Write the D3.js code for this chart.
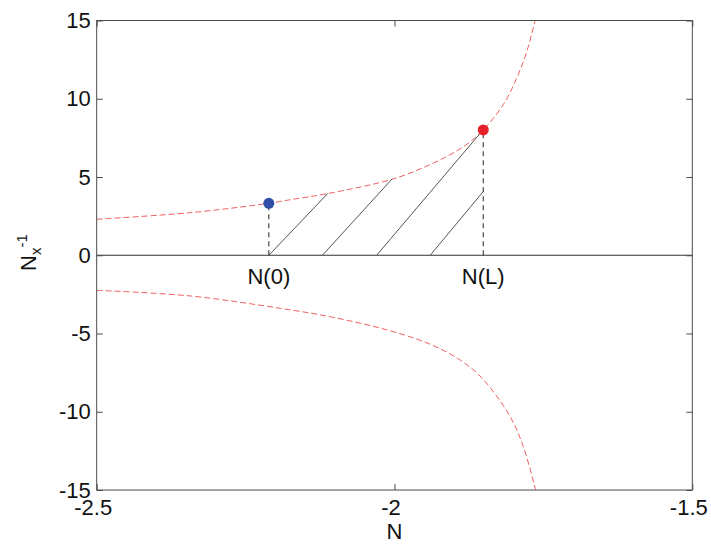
<!DOCTYPE html>
<html><head><meta charset="utf-8">
<script src="https://cdn.jsdelivr.net/npm/d3@7"></script>
<style>body{margin:0;background:#fff}svg{display:block}text{font-family:Arial,"Liberation Sans",sans-serif}</style>
</head><body><svg id="c" width="711" height="544"></svg>
<script>
// data
const xTicks = [-2.5, -2, -1.5];
const yTicks = [-15, -10, -5, 0, 5, 10, 15];
const upperN = [-2.5, -2.343, -2.211, -2.175, -2.111, -2.002, -1.940, -1.890, -1.855, -1.817, -1.795, -1.778, -1.764];
const upperY = [2.30, 2.72, 3.32, 3.55, 3.95, 4.88, 5.80, 6.80, 7.85, 9.65, 11.30, 13.00, 15.0];
const lowerN = [-2.5, -2.343, -2.192, -2.108, -2.008, -1.940, -1.890, -1.853, -1.806, -1.784, -1.763];
const lowerY = [-2.24, -2.60, -3.39, -3.93, -4.82, -5.69, -6.69, -7.85, -10.3, -12.2, -15.0];
const hatchStart = [-2.211, -2.121, -2.030, -1.940];
const hatchEndN = [-2.112, -2.004, -1.857, -1.851];
const hatchEndY = [3.95, 4.88, 7.75, 4.07];
const markerLabels = ["N(0)", "N(L)"];
const markerN = [-2.211, -1.851];
const markerY = [3.32, 8.01];
const markerColors = ["#2f4fa6", "#e8202a"];

const L = 96.7, R = 692.3, T = 20.5, B = 490;
const svg = d3.select("#c");
const x = d3.scaleLinear().domain([-2.5, -1.5]).range([L, R]);
const y = d3.scaleLinear().domain([-15, 15]).range([B, T]);
const axisColor = "#4a4a4a";
const fs = 22;

svg.append("clipPath").attr("id", "clip").append("rect")
  .attr("x", L).attr("y", T).attr("width", R - L).attr("height", B - T);

const plot = svg.append("g").attr("clip-path", "url(#clip)");

// zero line
plot.append("line").attr("x1", L).attr("x2", R).attr("y1", y(0)).attr("y2", y(0))
  .attr("stroke", "#333").attr("stroke-width", 1);

const line = d3.line().x(d => x(d[0])).y(d => y(d[1])).curve(d3.curveCatmullRom.alpha(0.5));
plot.append("path").datum(upperN.map((n, i) => [n, upperY[i]]))
  .attr("d", line).attr("fill", "none").attr("stroke", "#f06060").attr("stroke-width", 1)
  .attr("stroke-dasharray", "6,3");
plot.append("path").datum(lowerN.map((n, i) => [n, lowerY[i]]))
  .attr("d", line).attr("fill", "none").attr("stroke", "#f06060").attr("stroke-width", 1)
  .attr("stroke-dasharray", "6,3");

// hatch lines
hatchStart.forEach((n, i) => {
  plot.append("line").attr("x1", x(n)).attr("y1", y(0)).attr("x2", x(hatchEndN[i])).attr("y2", y(hatchEndY[i]))
    .attr("stroke", "#555").attr("stroke-width", 1);
});

// vertical dashed drops and markers
markerN.forEach((n, i) => {
  plot.append("line").attr("x1", x(n)).attr("x2", x(n)).attr("y1", y(0)).attr("y2", y(markerY[i]))
    .attr("stroke", "#222").attr("stroke-width", 1).attr("stroke-dasharray", "5,4");
});
markerN.forEach((n, i) => {
  plot.append("circle").attr("cx", x(n)).attr("cy", y(markerY[i])).attr("r", 5.5)
    .attr("fill", markerColors[i]);
  svg.append("text").attr("x", x(n)).attr("y", y(0) + 29).attr("text-anchor", "middle")
    .attr("font-size", fs).attr("fill", "#111").text(markerLabels[i]);
});

// axes box
svg.append("rect").attr("x", L).attr("y", T).attr("width", R - L).attr("height", B - T)
  .attr("fill", "none").attr("stroke", axisColor).attr("stroke-width", 1);

const tl = 6;
const yAxisL = d3.axisLeft(y).tickValues(yTicks).tickSize(-tl).tickPadding(6).tickFormat(d3.format("d"));
const gy = svg.append("g").attr("transform", `translate(${L},0)`).call(yAxisL);
const yAxisR = d3.axisRight(y).tickValues(yTicks).tickSize(-tl).tickFormat("");
const gyr = svg.append("g").attr("transform", `translate(${R},0)`).call(yAxisR);
const xAxisB = d3.axisBottom(x).tickValues(xTicks).tickSize(-tl).tickPadding(9).tickFormat(d => d3.format("")(d).replace("−", "-"));
const gx = svg.append("g").attr("transform", `translate(0,${B})`).call(xAxisB);
const xAxisT = d3.axisTop(x).tickValues(xTicks).tickSize(-tl).tickFormat("");
const gxt = svg.append("g").attr("transform", `translate(0,${T})`).call(xAxisT);
[gy, gyr, gx, gxt].forEach(g => {
  g.select(".domain").remove();
  g.selectAll(".tick line").attr("stroke", axisColor);
  g.selectAll("text").attr("font-size", fs).attr("fill", "#111").attr("font-family", "Arial, 'Liberation Sans', sans-serif");
});
gy.selectAll("text").text(d => String(d).replace("−", "-"));
gx.selectAll(".tick text").attr("dx", -4);

// axis labels
svg.append("text").attr("x", (L + R) / 2).attr("y", 539).attr("text-anchor", "middle")
  .attr("font-size", fs).attr("fill", "#111").text("N");
const yl = svg.append("text").attr("transform", `translate(36,271) rotate(-90)`)
  .attr("text-anchor", "start").attr("font-size", fs).attr("fill", "#111");
yl.append("tspan").text("N");
yl.append("tspan").attr("font-size", 15).attr("dy", 5).text("x");
yl.append("tspan").attr("font-size", 15).attr("dy", -14).text("-1");
</script></body></html>
